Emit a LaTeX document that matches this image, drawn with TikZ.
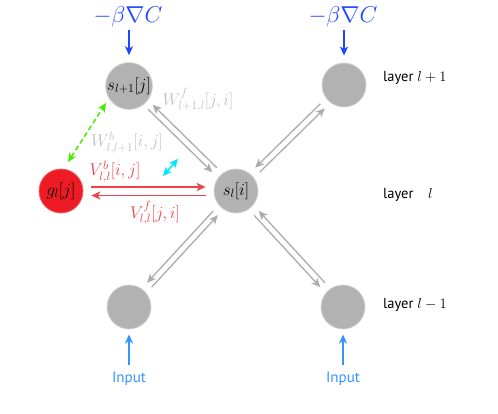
\RequirePackage{fix-cm}
\documentclass[tikz,border=0pt]{standalone}
\usepackage[no-math]{fontspec}
\setsansfont{PT Sans}
\usetikzlibrary{calc,arrows.meta}
\definecolor{nodegray}{RGB}{178,178,178}
\definecolor{linegray}{RGB}{172,172,172}
\definecolor{labgray}{RGB}{192,192,192}
\definecolor{nodered}{RGB}{237,28,36}
\definecolor{arrred}{RGB}{240,64,72}
\definecolor{topblue}{RGB}{30,70,255}
\definecolor{inblue}{RGB}{50,150,255}
\definecolor{dgreen}{RGB}{70,235,0}
\definecolor{dcyan}{RGB}{0,228,255}
\newcommand\mytip{Stealth[length=9pt,width=8pt,inset=2.5pt]}
\begin{document}
\begin{tikzpicture}[x=1pt,y=-1pt,
  neuron/.style={circle,minimum size=44pt,inner sep=0pt,fill=nodegray,draw=nodegray!60!white,line width=0.8pt,font=\fontsize{17}{20}\selectfont},
  redneuron/.style={neuron,fill=nodered,draw=nodered!70!white},
  garr/.style={draw=linegray,line width=1.3pt,-{\mytip},color=linegray},
  rarr/.style={draw=arrred,line width=1.8pt,-{\mytip},color=arrred},
  barr/.style={draw=topblue,line width=1.6pt,-{\mytip},color=topblue},
  iarr/.style={draw=inblue,line width=1.6pt,-{\mytip},color=inblue},
  wlab/.style={inner sep=0pt,text=labgray,font=\fontsize{17}{20}\selectfont},
  vlab/.style={inner sep=0pt,text=arrred,font=\fontsize{17}{20}\selectfont},
  toplab/.style={inner sep=0pt,text=topblue,font=\fontsize{23}{26}\selectfont},
  inlab/.style={inner sep=0pt,text=inblue,font=\sffamily\fontsize{15}{18}\selectfont},
  laylab/.style={inner sep=0pt,anchor=west,font=\sffamily\fontsize{14.5}{17}\selectfont}]
\useasboundingbox (0,0) rectangle (498,413);
% neurons
\node[neuron] (TL) at (129,86) {$s_{l+1}[j]$};
\node[neuron] (TR) at (344,85) {};
\node[neuron] (C) at (236,191) {$s_l[i]$};
\node[redneuron] (G) at (61,191) {$g_l[j]$};
\node[neuron] (BL) at (129,307) {};
\node[neuron] (BR) at (343,307) {};
% gray double connectors
\foreach \X in {TL,TR,BL,BR}{
  \draw[garr] ($(C)!30pt!(\X)!3.2pt!-90:(\X)$) -- ($(\X)!30pt!(C)!3.2pt!90:(C)$);
  \draw[garr] ($(\X)!30pt!(C)!3.2pt!-90:(C)$) -- ($(C)!30pt!(\X)!3.2pt!90:(\X)$);
}
% red connectors
\draw[rarr] ($(G.east)+(8,-4)$) -- ($(C.west)+(-8,-4)$);
\draw[rarr] ($(C.west)+(-8,4.5)$) -- ($(G.east)+(8,4.5)$);
% labels
\node[wlab] (wf) at (198,100) {$W^f_{l+1,l}[j,i]$};
\node[wlab] (wb) at (127,143) {$W^b_{l,l+1}[i,j]$};
\node[vlab] (vb) at (115,172) {$V^b_{l,l}[i,j]$};
\node[vlab] (vf) at (155,213) {$V^f_{l,l}[j,i]$};
% top nudges
\node[toplab] (b1) at (128,17) {$-\beta\nabla C$};
\node[toplab] (b2) at (343,17) {$-\beta\nabla C$};
\draw[barr,shorten <=3pt,shorten >=7pt] (b1.south -| TL) -- (TL.north);
\draw[barr,shorten <=3pt,shorten >=7pt] (b2.south -| TR) -- (TR.north);
% inputs
\node[inlab] (i1) at (129,379) {Input};
\node[inlab] (i2) at (343,379) {Input};
\draw[iarr,shorten <=7pt,shorten >=5pt] (i1.north -| BL) -- (BL.south);
\draw[iarr,shorten <=7pt,shorten >=5pt] (i2.north -| BR) -- (BR.south);
% green dashed
\coordinate (g1) at ($(TL)+(-23,17)$);
\coordinate (g2) at ($(G)+(7,-29)$);
\draw[dgreen,line width=1.5pt,dashed,dash pattern=on 5pt off 3pt,{\mytip}-{\mytip}] (g2) -- (g1);
% cyan
\coordinate (c1) at (163,176);
\coordinate (c2) at (178,159);
\draw[dcyan,line width=1.5pt,{\mytip}-{\mytip}] (c1) -- (c2);
% layer labels
\node[laylab] (L1) at (383,78) {layer $l+1$};
\node[laylab] (L0) at (383,195) {layer\quad$l$};
\node[laylab] (L2) at (383,305) {layer $l-1$};
\end{tikzpicture}
\end{document}
